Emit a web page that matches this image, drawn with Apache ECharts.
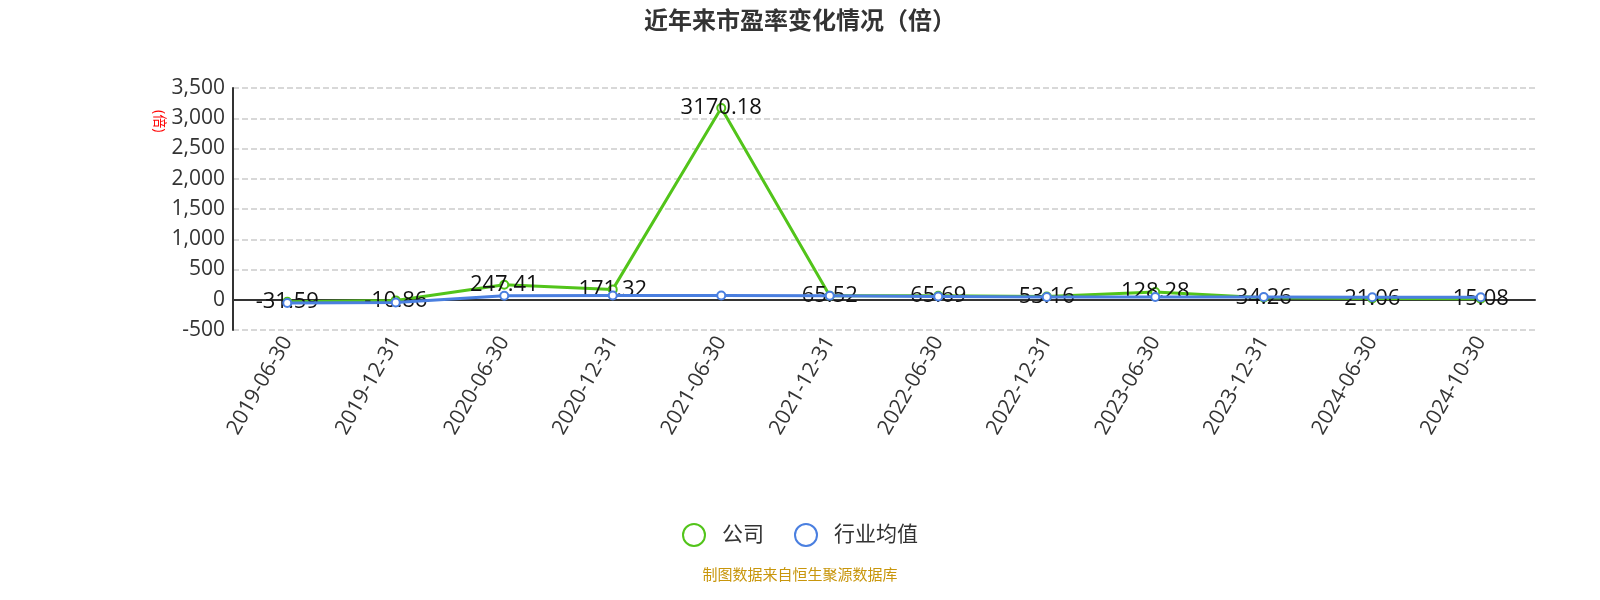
<!DOCTYPE html><html><head><meta charset="utf-8"><script src="https://cdn.jsdelivr.net/npm/echarts@6/dist/echarts.min.js"></script></head><body style="margin:0"><div id="c" style="width:1600px;height:600px"></div><script>
const categories=['2019-06-30','2019-12-31','2020-06-30','2020-12-31','2021-06-30','2021-12-31','2022-06-30','2022-12-31','2023-06-30','2023-12-31','2024-06-30','2024-10-30'];
const company=[-31.59,-10.86,247.41,171.32,3170.18,65.52,65.69,53.16,128.28,34.26,21.06,15.08];
const industry=[-55,-45,65,70,70,65,55,45,45,45,40,40];
const f='"Open Sans","Noto Sans CJK SC",sans-serif';
const c=echarts.init(document.getElementById('c'));
c.setOption({
title:{text:'近年来市盈率变化情况（倍）',left:'center',top:5,textStyle:{fontSize:24,fontWeight:'bold',color:'#333',fontFamily:f}},
graphic:[{type:'text',left:'center',top:568,style:{text:'制图数据来自恒生聚源数据库',fill:'#c8960c',fontSize:15,fontFamily:f}},
{type:'text',x:166,y:110,rotation:-Math.PI/2,originX:0,originY:0,style:{text:'(倍)',fill:'red',fontSize:14,fontFamily:f}}],
legend:{bottom:48,itemWidth:46,itemHeight:22,itemGap:30,textStyle:{fontSize:21,color:'#333',fontFamily:f},data:[{name:'公司',icon:'emptyCircle'},{name:'行业均值',icon:'emptyCircle'}]},
grid:{left:233,right:95,top:88,bottom:270,containLabel:false},
xAxis:{type:'category',data:categories,axisLabel:{rotate:60,fontSize:21,color:'#333',fontFamily:f,interval:0},axisLine:{lineStyle:{color:'#333',width:2}},axisTick:{lineStyle:{color:'#333',width:2}}},
yAxis:{type:'value',min:-500,max:3500,interval:500,axisLine:{show:true,lineStyle:{color:'#333',width:2}},axisLabel:{fontSize:21,color:'#333',fontFamily:f},splitLine:{lineStyle:{type:'dashed',color:'#ccc',width:1.5}}},
series:[
{name:'公司',type:'line',data:company,symbol:'emptyCircle',symbolSize:8,itemStyle:{color:'#52c41a'},lineStyle:{width:3,color:'#52c41a'},label:{show:true,position:'inside',fontSize:22,color:'#111',fontFamily:f},z:2},
{name:'行业均值',type:'line',data:industry,symbol:'emptyCircle',symbolSize:8,itemStyle:{color:'#4a7fe0'},lineStyle:{width:3,color:'#4a7fe0'},z:3}
]});
c.setOption({grid:{right:95-(1505-1475)}});
</script></body></html>
